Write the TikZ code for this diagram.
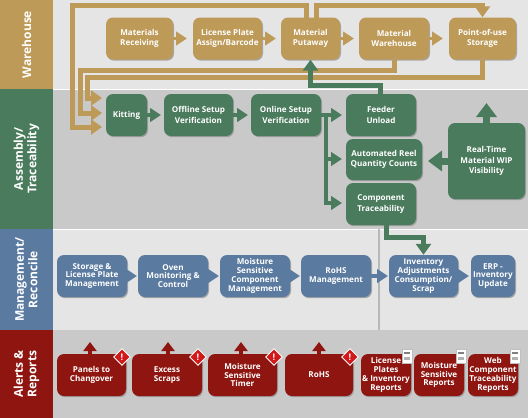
\documentclass[tikz,border=0pt]{standalone}
\usepackage{fontspec}
\setmainfont{Open Sans}
\usetikzlibrary{arrows.meta,shadows,shapes.geometric}
\definecolor{tan}{HTML}{BE9A58}
\definecolor{grn}{HTML}{4A7B5D}
\definecolor{blu}{HTML}{5A7AA0}
\definecolor{rd}{HTML}{8E1510}
\tikzset{
  x=1pt,y=-1pt,
  box/.style={rounded corners=7pt,inner sep=0pt,align=center,text=white,
    copy shadow={shadow xshift=1pt,shadow yshift=-1.2pt,fill=black!45,draw=none,opacity=.7}},
  loose/.style={font=\fontsize{8.1}{10.3}\selectfont\bfseries},
  tight/.style={font=\fontsize{8.1}{8.8}\selectfont\bfseries},
  tanbox/.style={box,loose,fill=tan},
  grnbox/.style={box,loose,fill=grn},
  blubox/.style={box,tight,fill=blu},
  rdbox/.style={box,tight,fill=rd},
  band/.style={font=\fontsize{12}{13.5}\selectfont\bfseries,text=white,rotate=90,align=center},
  flow/.style={line width=3.8pt,-{Triangle[width=13.5pt,length=11pt]}},
  wide/.style={line width=5pt,-{Triangle[width=15pt,length=11pt]}},
  big/.style={line width=7pt,-{Triangle[width=20pt,length=14pt]}},
  up/.style={line width=4pt,-{Triangle[width=13pt,length=9pt]}},
  warn/.style={diamond,draw=white,line width=.9pt,fill=red!80!black!90,minimum size=17pt,inner sep=0pt,text=white,font=\fontsize{9}{9}\selectfont\bfseries},
  sheet/.style={fill=white,draw=black!25,line width=.5pt,inner sep=0pt,minimum width=10pt,minimum height=14pt},
}
\begin{document}
\begin{tikzpicture}
\useasboundingbox (0,0) rectangle (528,418);
\fill[black!10] (0,0) rectangle (528,89);
\fill[black!21] (0,89) rectangle (528,229);
\fill[black!10] (0,229) rectangle (528,330);
\fill[black!21] (0,330) rectangle (528,418);
\draw[white,line width=.8pt] (53,89) -- (528,89);
\draw[white,line width=1pt] (53,229.5) -- (528,229.5);
\draw[black!28,line width=1.6pt] (379,229) -- (379,330);
\fill[tan] (0,0) rectangle (53,89);
\fill[grn] (0,89) rectangle (53,229);
\fill[blu] (0,229) rectangle (53,330);
\fill[rd] (0,330) rectangle (53,418);
\node[band] (lw) at (26.5,44.5) {Warehouse};
\node[band] (la) at (26.5,159) {Assembly/\\Traceability};
\node[band] (lm) at (26.5,279.5) {Management/\\Reconcile};
\node[band] (lr) at (26.5,374) {Alerts \&\\Reports};

\node[tanbox,minimum width=67pt,minimum height=42pt] (recv) at (139.5,38.5) {Materials\\Receiving};
\node[tanbox,minimum width=69pt,minimum height=42pt] (lic) at (227.5,38.5) {License Plate\\Assign/Barcode};
\node[tanbox,minimum width=59pt,minimum height=42pt] (put) at (310.5,38.5) {Material\\Putaway};
\node[tanbox,minimum width=70pt,minimum height=42pt] (mw) at (394,38.5) {Material\\Warehouse};
\node[tanbox,minimum width=67pt,minimum height=42pt] (pou) at (482.5,38.5) {Point-of-use\\Storage};

\node[grnbox,minimum width=41pt,minimum height=42pt] (kit) at (126.5,115) {Kitting};
\node[grnbox,minimum width=69pt,minimum height=42pt] (off) at (198.5,115) {Offline Setup\\Verification};
\node[grnbox,minimum width=70pt,minimum height=42pt] (onl) at (286,115) {Online Setup\\Verification};
\node[grnbox,minimum width=70pt,minimum height=42pt] (fee) at (381,115) {Feeder\\Unload};
\node[grnbox,minimum width=76pt,minimum height=41pt] (aut) at (384,159.5) {Automated Reel\\Quantity Counts};
\node[grnbox,minimum width=70pt,minimum height=42pt] (com) at (381,204) {Component\\Traceability};
\node[grnbox,minimum width=77pt,minimum height=76pt] (rt) at (486.5,161) {Real-Time\\Material WIP\\Visibility};

\node[blubox,minimum width=70pt,minimum height=42pt] (sto) at (92,276) {Storage \&\\License Plate\\Management};
\node[blubox,minimum width=70pt,minimum height=42pt] (ove) at (173,276) {Oven\\Monitoring \&\\Control};
\node[blubox,minimum width=70pt,minimum height=42pt] (msc) at (255,276) {Moisture\\Sensitive\\Component\\Management};
\node[blubox,minimum width=70pt,minimum height=42pt] (roh) at (336,276) {RoHS\\Management};
\node[blubox,minimum width=69pt,minimum height=42pt] (inv) at (423.5,276) {Inventory\\Adjustments\\Consumption/\\Scrap};
\node[blubox,minimum width=44pt,minimum height=42pt] (erp) at (493,276) {ERP -\\Inventory\\Update};

\node[rdbox,minimum width=69pt,minimum height=42pt] (pan) at (91.5,375) {Panels to\\Changover};
\node[rdbox,minimum width=70pt,minimum height=42pt] (exc) at (167,375) {Excess\\Scraps};
\node[rdbox,minimum width=69pt,minimum height=42pt] (tim) at (242.5,375) {Moisture\\Sensitive\\Timer};
\node[rdbox,minimum width=68pt,minimum height=42pt] (rrh) at (319,375) {RoHS};
\node[rdbox,minimum width=50pt,minimum height=42pt] (lpr) at (386,375) {License\\Plates\\\& Inventory\\Reports};
\node[rdbox,minimum width=50pt,minimum height=42pt] (msr) at (439,375) {Moisture\\Sensitive\\Reports};
\node[rdbox,minimum width=50pt,minimum height=42pt] (web) at (493,375) {Web\\Component\\Traceability\\Reports};

\coordinate (k1) at (102,98);
\coordinate (k2) at (102,113);
\coordinate (k3) at (102,127);
\coordinate (ru) at (486.5,103);
\coordinate (ral) at (428,161);

\begin{scope}[tan]
\draw[flow] (recv.east) -- (187,38.5);
\draw[flow] (lic.east) -- (276,38.5);
\draw[flow] (put.east) -- (354,38.5);
\draw[flow] (mw.east) -- (443,38.5);
\draw[wide] (306,17.5) -- (306,5.5) -- (72.5,5.5) -- (72.5,127) -- (k3);
\draw[wide] (mw.south) -- (394,70) -- (80,70) -- (80,113) -- (k2);
\draw[wide] (pou.south) -- (482.5,77.5) -- (87,77.5) -- (87,98) -- (k1);
\draw[wide] (316,17.5) -- (316,5.5) -- (482.5,5.5) -- (pou.north);
\end{scope}
\begin{scope}[grn]
\draw[flow] (kit.east) -- (161,115);
\draw[flow] (off.east) -- (248,115);
\draw[flow] (onl.east) -- (342,115);
\draw[line width=4pt] (326,115) -- (326,203);
\draw[flow] (324,159) -- (342,159);
\draw[flow] (324,203) -- (342,203);
\draw[wide] (380,94) -- (380,85) -- (310.5,85) -- (put.south);
\draw[big] (rt.west) -- (ral);
\draw[big] (486.5,123) -- (ru);
\draw[wide] (386,225) -- (386,237) -- (423.5,237) -- (inv.north);
\end{scope}
\begin{scope}[blu]
\draw[flow] (sto.east) -- (137,276);
\draw[flow] (ove.east) -- (219,276);
\draw[flow] (msc.east) -- (300,276);
\draw[flow] (roh.east) -- (388,276);
\draw[flow] (inv.east) -- (469,276);
\end{scope}
\begin{scope}[rd]
\draw[up] (90,354) -- (90,342);
\draw[up] (168,354) -- (168,342);
\draw[up] (241,354) -- (241,342);
\draw[up] (319,354) -- (319,342);
\end{scope}

\node[warn] (w1) at (122,357) {!};
\node[warn] (w2) at (198,357) {!};
\node[warn] (w3) at (274,357) {!};
\node[warn] (w4) at (350,357) {!};
\foreach \n/\x in {d1/407,d2/461,d3/515}{
  \node[sheet] (\n) at (\x,356) {};
  \fill[black!50] (\x-3,352) rectangle (\x+3,354);
  \fill[black!30] (\x-3,356.5) rectangle (\x+3,360);
}
\end{tikzpicture}
\end{document}
